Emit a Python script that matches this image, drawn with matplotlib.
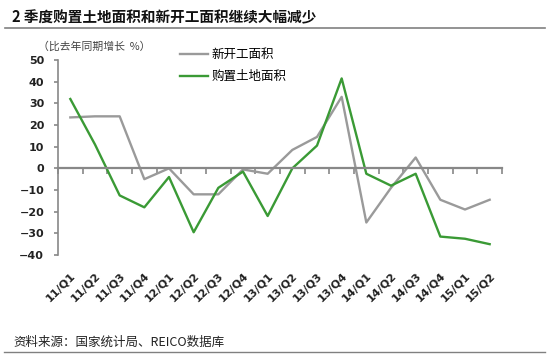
import matplotlib.pyplot as plt
from matplotlib.lines import Line2D
import numpy as np

plt.rcParams['font.family'] = ['Noto Sans CJK SC', 'DejaVu Sans']

quarters = ['11/Q1', '11/Q2', '11/Q3', '11/Q4', '12/Q1', '12/Q2', '12/Q3', '12/Q4',
            '13/Q1', '13/Q2', '13/Q3', '13/Q4', '14/Q1', '14/Q2', '14/Q3', '14/Q4',
            '15/Q1', '15/Q2']
# 新开工面积 (比去年同期增长 %)
new_start = [23.5, 24, 24, -5, 0, -12, -12, -0.5, -2.5, 8.5, 14.5, 33,
             -25, -9, 5, -14.5, -19, -14.5]
# 购置土地面积
land_buy = [32, 11, -12.5, -18, -4, -29.5, -9, -1.5, -22, 0, 10.5, 41.5,
            -2.5, -8, -2.5, -31.5, -32.5, -35]

W, H = 550, 358
fig = plt.figure(figsize=(W / 100, H / 100), dpi=100)
ax = fig.add_axes([58 / W, 1 - 255 / H, 444 / W, 195 / H])

x = np.arange(len(quarters))
ax.plot(x, new_start, color='#9a9a9a', lw=1.7, label='新开工面积')
ax.plot(x, land_buy, color='#3a9a35', lw=1.7, label='购置土地面积')

ax.set_xlim(-0.5, len(quarters) - 0.5)
ax.set_ylim(-40, 50)
ax.set_yticks(range(-40, 51, 10))
for s in ['top', 'right']:
    ax.spines[s].set_visible(False)
ax.spines['left'].set_color('#888888')
ax.spines['left'].set_linewidth(1.2)
ax.spines['bottom'].set_position(('data', 0))
ax.spines['bottom'].set_color('#888888')
ax.spines['bottom'].set_linewidth(1.6)

ax.set_xticks(np.arange(-0.5, len(quarters), 1))
ax.tick_params(axis='x', direction='out', length=4, width=1.2, color='#888888',
               labelbottom=False)
ax.tick_params(axis='y', direction='out', length=3, width=1.2, color='#888888', pad=7)
for lab in ax.get_yticklabels():
    lab.set_family('DejaVu Sans')
    lab.set_fontsize(8)
    lab.set_fontweight('bold')
    lab.set_color('#222222')

sec = ax.secondary_xaxis('bottom')
sec.set_xticks(x)
sec.set_xticklabels(quarters, rotation=45, ha='right', rotation_mode='anchor')
sec.tick_params(length=0, pad=11)
sec.spines['bottom'].set_visible(False)
for lab in sec.get_xticklabels():
    lab.set_family('DejaVu Sans')
    lab.set_fontsize(8)
    lab.set_fontweight('bold')
    lab.set_color('#222222')

fig.legend(loc='upper left', bbox_to_anchor=(180 / W, 1 - 48 / H), frameon=False,
           fontsize=9, handlelength=2.2, handletextpad=0.3, labelspacing=0.75,
           borderpad=0, borderaxespad=0)

fig.text(12 / W, 1 - 17 / H, '2 季度购置土地面积和新开工面积继续大幅减少',
         fontsize=10.5, fontweight='bold', va='center', ha='left', color='#111111')
fig.add_artist(Line2D([5 / W, 545 / W], [1 - 28 / H] * 2, color='#808080', lw=1.2))
fig.text(38 / W, 1 - 47 / H, '（比去年同期增长  %）', fontsize=7.8, va='center',
         ha='left', color='#444444')
fig.text(13 / W, 1 - 342 / H, '资料来源：国家统计局、REICO数据库', fontsize=9,
         va='center', ha='left', color='#222222')
fig.add_artist(Line2D([4 / W, 545 / W], [1 - 352 / H] * 2, color='#808080', lw=1.0))

fig.savefig('out.png', dpi=100)
